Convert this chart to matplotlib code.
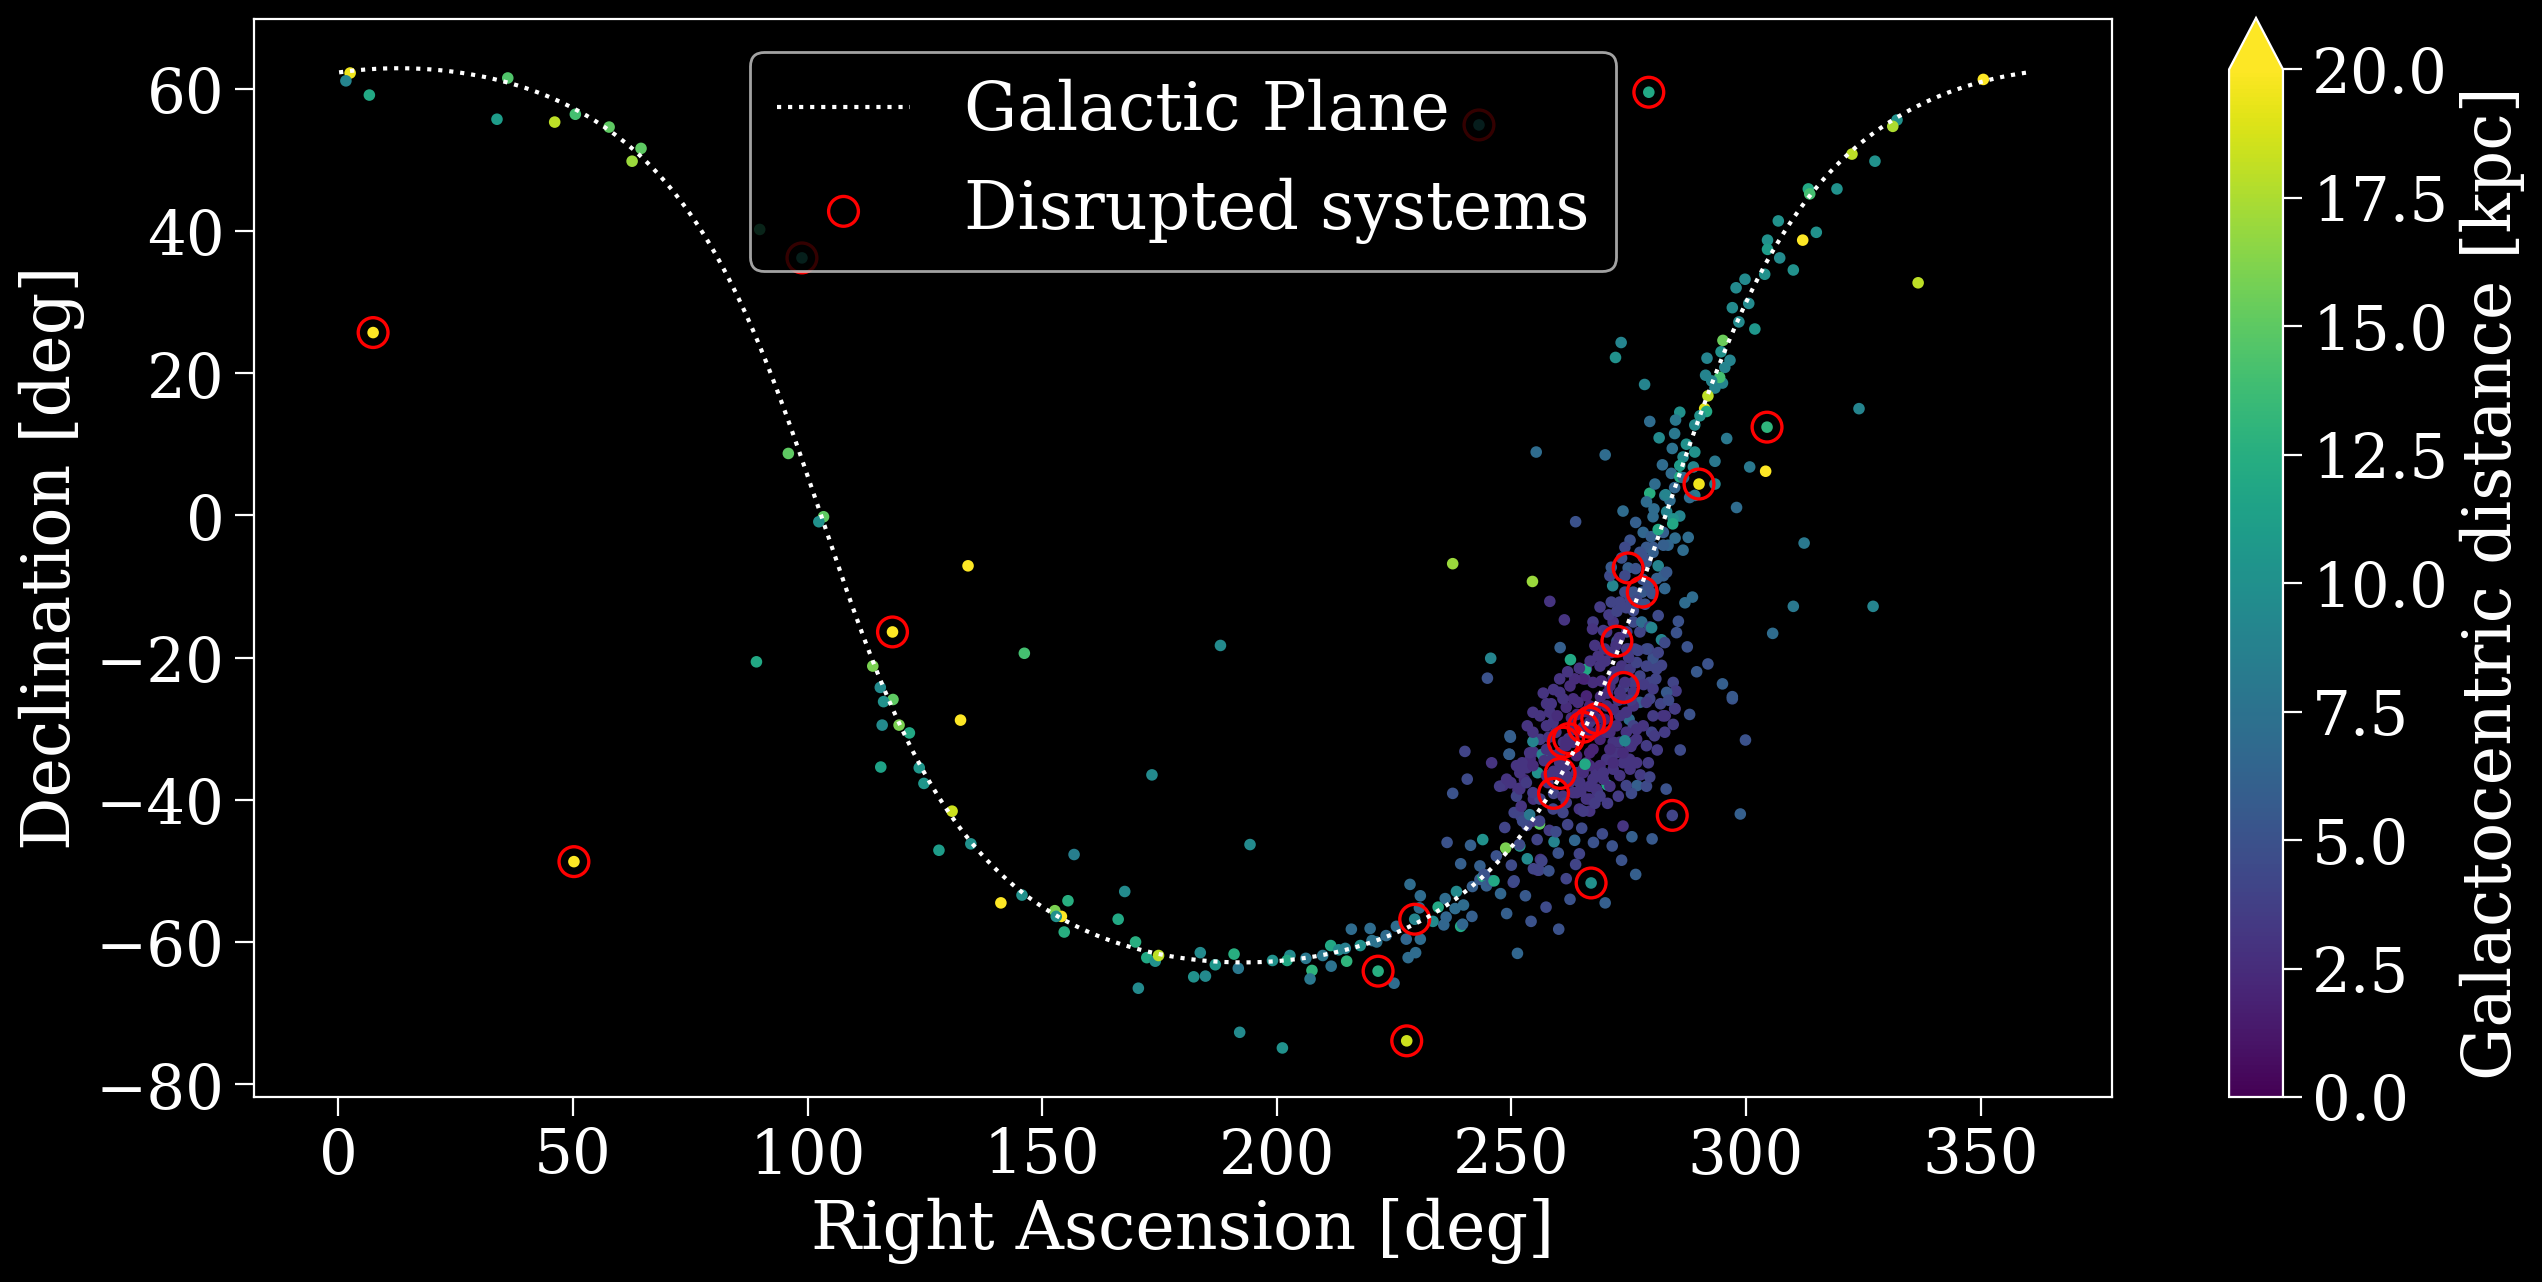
import matplotlib
matplotlib.use('Agg')
import matplotlib.pyplot as plt
import numpy as np

plt.style.use('dark_background')
plt.rcParams['font.family'] = 'serif'
plt.rcParams['font.size'] = 22

# halo / southern arc west of RA 200
outer_ra = [2.5, 1.6, 6.6, 7.4, 33.8, 36.1, 46.1, 50.5, 57.7, 62.6,
            64.5, 50.2, 89.8, 98.8, 95.9, 103.4, 102.4, 89.1, 118.1, 134.2,
            146.2, 113.9, 115.5, 118.2, 116.2, 115.9, 119.5, 121.7, 132.6, 115.6,
            123.8, 124.8, 130.8, 128.0, 134.8, 156.8, 141.2, 145.7, 155.5, 152.7,
            154.1, 153.0, 154.7, 166.2, 173.4, 188.0, 194.3, 167.6, 169.9, 172.3,
            174.1, 174.8, 170.5, 183.7, 182.3, 184.8, 186.9, 190.9, 191.8, 192.1,
            199.1]
outer_dec = [62.2, 61.1, 59.1, 25.7, 55.7, 61.5, 55.3, 56.4, 54.6, 49.8,
             51.6, -48.7, 40.2, 36.2, 8.7, -0.2, -0.9, -20.6, -16.4, -7.1,
             -19.4, -21.2, -24.2, -25.9, -26.2, -29.5, -29.5, -30.6, -28.8, -35.4,
             -35.5, -37.7, -41.6, -47.1, -46.2, -47.7, -54.5, -53.4, -54.2, -55.6,
             -56.4, -56.4, -58.6, -56.8, -36.5, -18.3, -46.3, -52.9, -60.0, -62.2,
             -62.7, -61.9, -66.5, -61.5, -64.9, -64.8, -63.2, -61.7, -63.7, -72.7,
             -62.6]
outer_dist = [19.5, 9, 12, 20, 11, 14.5, 18, 14, 15, 17,
              15, 20, 13, 11, 15, 15, 10, 12, 20, 20,
              14, 16, 9.5, 15, 10, 9.5, 16, 12, 20, 11.5,
              10.5, 10.5, 18.5, 11, 10, 8.5, 20, 10, 12.5, 16,
              20, 10, 12.5, 12, 9.5, 9.5, 9.5, 9.5, 12.5, 12,
              10, 18, 9.5, 9.5, 10, 9.5, 10.5, 12.5, 8, 9.5,
              10]

# arc between RA 200 and the bulge
arc_ra = [201.2, 202.8, 202.2, 206.2, 207.5, 207.1, 209.8, 211.5, 211.6, 213.2,
          214.6, 214.9, 215.9, 217.8, 219.9, 220.3, 221.3, 221.6, 225.0, 223.3,
          225.5, 227.6, 228.0, 229.6, 230.6, 229.4, 228.4, 230.6, 230.4, 227.7,
          234.4, 235.9, 236.1, 235.6, 233.3, 238.3, 238.0, 239.8, 239.2, 239.6,
          241.6, 236.3, 241.3, 237.5, 240.6, 240.1, 245.8, 249.6, 251.3, 254.2,
          239.2, 243.3, 241.7, 244.0, 246.8, 248.8, 251.8, 250.0, 253.4, 247.7,
          250.4, 248.6, 248.2, 249.9, 251.4, 252.8, 252.0, 254.0, 255.6, 256.2,
          243.3, 244.2, 244.7, 245.8, 246.3, 243.9, 250.6, 251.7, 254.7, 255.9,
          256.5, 258.1, 256.0, 254.4, 253.3, 255.5, 250.6, 252.4, 253.9, 251.6,
          252.1, 254.7, 255.6, 256.8, 254.7, 254.0, 253.3, 252.3, 249.8, 245.6,
          244.9, 237.5, 254.5, 260.1, 257.4, 261.7, 263.7, 264.5, 263.5, 259.1,
          267.0, 243.1]
arc_dec = [-74.9, -61.9, -62.6, -62.3, -64.0, -65.2, -61.9, -60.5, -63.4, -61.1,
           -60.9, -62.7, -58.2, -60.5, -58.1, -59.8, -60.0, -64.1, -65.8, -59.1,
           -57.8, -59.6, -62.2, -61.5, -59.6, -56.8, -51.9, -53.5, -55.2, -73.9,
           -55.1, -53.9, -56.5, -57.6, -57.1, -52.9, -55.3, -54.8, -57.8, -57.5,
           -56.4, -46.0, -46.4, -39.1, -37.1, -33.2, -34.8, -33.6, -61.6, -57.1,
           -49.0, -51.2, -52.2, -50.8, -47.9, -46.8, -46.5, -49.2, -48.3, -53.2,
           -51.6, -43.9, -38.0, -37.6, -38.6, -37.2, -42.3, -43.0, -49.9, -48.4,
           -49.3, -50.5, -52.1, -51.4, -51.4, -45.6, -51.4, -46.3, -49.7, -49.9,
           -48.6, -44.3, -43.4, -43.0, -43.6, -45.6, -41.8, -43.0, -42.1, -38.4,
           -40.9, -39.9, -36.2, -33.8, -33.3, -34.3, -35.5, -34.8, -31.2, -20.1,
           -22.9, -6.8, -9.3, -58.2, -55.1, -51.1, -49.1, -47.6, -45.7, -45.9,
           -51.7, 54.9]
arc_dist = [10, 9.5, 12, 8, 13, 8, 8, 12, 7.5, 9.5,
            8.5, 13, 7, 10, 7, 7.5, 7.5, 12.5, 7, 7,
            7, 6.5, 7, 7, 7, 9, 7, 7, 7, 18.5,
            12, 7, 6.5, 6.5, 9.5, 9.5, 7, 7, 12, 6.5,
            6, 5, 6, 5, 4.5, 4, 3, 6, 6.5, 5,
            6, 5.5, 6, 12, 5, 16, 10, 4.5, 9.5, 6.5,
            4, 4, 3, 3, 2.5, 2.5, 4, 4, 3, 3,
            6, 5, 6, 5, 12, 10, 4.5, 4.5, 4, 4,
            4, 3.5, 15, 3, 4, 4, 4, 4.5, 8, 3,
            3, 3, 10, 9, 3, 2.5, 3, 3, 6, 9,
            5, 17, 17, 5, 4.5, 4, 4, 4, 6.5, 9,
            10, 10]

# bulge region
bulge_ra = [269.4, 273.8, 275.7, 276.8, 278.8, 275.6, 270.4, 268.3, 266.7, 264.5,
            281.1, 282.8, 284.9, 275.1, 275.2, 275.5, 271.7, 271.3, 284.3, 298.8,
            299.9, 297.1, 259.0, 260.4, 261.1, 262.2, 265.3, 266.7, 268.2, 273.9,
            272.5, 277.9, 274.9, 287.7, 286.6, 284.9, 283.4, 282.4, 280.2, 278.8,
            275.3, 274.2, 281.3, 282.4, 278.8, 278.1, 282.7, 287.0, 288.6, 310.1,
            305.7, 285.6, 291.9, 295.0, 297.1, 284.5, 285.1, 284.8, 279.5, 279.9,
            282.0, 280.2, 279.2, 277.4, 276.0, 277.8, 282.0, 281.3, 279.5, 273.1,
            271.6, 274.2, 275.3, 276.0, 268.9, 271.3, 267.4, 269.6, 267.3, 267.8,
            269.9, 271.7, 272.3, 270.3, 274.6, 274.6, 276.3, 278.8, 266.0, 265.7,
            267.4, 269.2, 271.0, 273.1, 276.0, 277.4, 258.2, 261.3, 260.4, 262.6,
            265.8, 256.8, 260.3, 262.5, 265.3, 266.0, 263.2, 261.7, 258.9, 257.5,
            256.1, 254.6, 253.9, 254.6, 257.8, 261.7, 263.9, 266.7, 268.9, 271.0,
            273.1, 276.0, 277.4, 279.5, 280.2, 283.1, 282.3, 279.9, 278.1, 275.3,
            272.4, 270.3, 268.1, 266.7, 263.9, 261.0, 251.1, 247.5, 249.7, 251.8,
            249.7, 249.5, 253.4, 254.6, 256.1, 258.2, 257.5, 260.3, 261.0, 264.2,
            266.7, 267.4, 270.3, 271.7, 269.9, 268.9, 266.7, 265.0, 263.2, 261.7,
            263.2, 260.3, 261.0, 263.9, 265.3, 266.7, 268.9, 271.0, 273.1, 274.5,
            276.7, 278.8, 273.8, 271.7, 269.6, 266.0, 271.3, 273.5, 275.3, 276.7,
            278.8, 281.0, 274.2, 276.0, 271.7, 268.9, 274.9, 281.3, 279.9, 282.7,
            285.2, 276.0, 279.2, 281.0, 283.1, 274.2, 271.0, 271.3, 277.4, 280.2,
            282.4, 278.1, 254.6, 256.6, 257.5, 258.9, 260.3, 261.7, 266.0, 267.4,
            270.3, 272.4, 274.5, 276.0, 278.8, 280.2, 276.7, 276.0, 273.8, 271.7,
            269.6, 267.4, 264.6, 263.2, 261.7, 261.0, 258.9, 256.1, 254.6, 253.2,
            251.8, 251.1, 249.0, 257.5, 261.7, 265.3, 268.1, 271.0, 273.1, 275.3,
            276.7, 279.2, 282.7, 284.5, 266.7, 268.9, 265.3, 274.2, 265.7, 263.7]
bulge_dec = [-44.8, -43.7, -45.2, -38.0, -38.1, -39.1, -37.9, -38.8, -41.6, -41.3,
             -33.0, -28.2, -27.2, -28.7, -34.3, -32.5, -31.9, -34.3, -42.2, -42.0,
             -31.6, -25.8, -39.1, -36.3, -31.9, -31.4, -29.8, -29.1, -28.6, -24.2,
             -17.7, -10.8, -7.4, -3.1, -4.9, -3.2, -4.2, -4.2, -4.5, -4.5,
             -3.5, -4.5, -7.1, -8.5, -6.6, -5.9, -10.3, -12.3, -11.5, -12.8,
             -16.6, -14.9, -20.9, -23.7, -25.5, -23.5, -24.7, -27.2, -23.5, -21.1,
             -21.1, -20.1, -18.8, -16.4, -15.0, -15.0, -17.5, -14.1, -15.7, -12.2,
             -9.9, -10.8, -11.7, -13.4, -12.9, -12.2, -15.0, -16.2, -16.0, -18.3,
             -18.8, -15.0, -18.3, -16.4, -16.4, -18.8, -18.8, -18.8, -21.6, -23.0,
             -23.5, -23.3, -24.0, -24.9, -23.5, -22.6, -12.1, -14.7, -18.6, -20.3,
             -21.7, -25.0, -23.0, -24.0, -23.0, -25.4, -25.8, -27.0, -29.1, -29.6,
             -31.5, -31.8, -33.4, -35.2, -37.6, -35.2, -33.8, -33.4, -31.5, -30.5,
             -28.2, -29.6, -26.3, -25.8, -24.4, -24.9, -28.2, -30.5, -29.6, -32.4,
             -33.4, -34.3, -36.2, -38.1, -39.0, -39.5, -39.5, -38.1, -37.6, -38.5,
             -31.0, -33.6, -29.6, -27.7, -28.2, -27.7, -26.5, -24.9, -25.8, -26.3,
             -26.8, -28.2, -26.8, -27.3, -28.7, -30.1, -30.5, -30.5, -30.1, -31.9,
             -31.9, -33.4, -35.2, -36.2, -36.2, -35.2, -35.2, -32.9, -31.9, -30.5,
             -31.5, -32.4, -34.8, -35.7, -37.1, -39.9, -19.3, -21.2, -21.6, -20.7,
             -21.2, -21.6, -23.5, -24.9, -23.0, -21.2, -18.8, -19.3, -15.8, -17.9,
             -16.5, -10.8, -9.9, -8.9, -8.0, -8.5, -8.5, -7.3, -5.2, -5.2,
             -2.4, -2.4, -30.5, -33.6, -32.9, -33.8, -34.8, -32.4, -34.8, -32.9,
             -30.5, -29.6, -27.7, -26.8, -26.3, -28.2, -30.1, -31.9, -33.4, -34.8,
             -36.2, -37.1, -37.6, -39.0, -40.4, -41.8, -41.3, -39.9, -39.0, -37.6,
             -36.2, -35.2, -37.1, -36.6, -36.6, -35.7, -38.5, -38.1, -36.6, -35.7,
             -34.8, -34.8, -30.5, -29.4, -39.9, -39.5, -41.6, -31.7, -35.0, -0.9]
bulge_dist = [4.5, 3, 6, 6, 4.5, 4.5, 12, 3.5, 3, 3,
              3.5, 3, 3, 7, 3, 3, 3, 3, 4, 6,
              5, 5, 4, 3, 3, 3, 3, 3, 3, 4,
              4.5, 5.5, 6, 7, 7, 7, 6.5, 6, 5.5, 5.5,
              5, 4.5, 9, 6, 5.5, 5, 6.5, 7, 7, 8,
              7, 5, 5, 6, 5.5, 4, 3.5, 3.5, 4, 4,
              4, 5, 4, 4, 4.5, 7, 9, 4.5, 4.5, 4,
              9, 4.5, 4, 4.5, 3.5, 4, 3.5, 3.5, 3, 3,
              3, 3, 3, 3, 3.5, 3.5, 4, 4.5, 3, 3,
              2.5, 2.5, 2.5, 3, 3.5, 4, 3, 3, 6, 12,
              12, 3, 3, 2.5, 2, 2, 2.5, 2.5, 3, 3,
              3.5, 9, 3, 2.5, 3, 3.5, 2, 2, 2, 2.5,
              3, 4, 6, 4, 3.5, 5.5, 3, 4, 3, 3,
              3, 3, 3, 3, 3, 3, 4, 3.5, 3, 3,
              6, 6, 3, 3, 3, 3, 3, 3, 3, 2.5,
              2, 2, 2.5, 2.5, 2, 2, 2, 2, 2.5, 2.5,
              2.5, 3, 3, 3, 2.5, 2.5, 2.5, 2.5, 3, 3,
              3, 3.5, 3, 3, 3, 3, 3, 3, 3.5, 4,
              4, 4, 3, 3, 3, 3, 3.5, 4, 9, 4.5,
              5, 5, 5, 6, 5.5, 4.5, 4.5, 5.5, 5, 6,
              6, 6.5, 3, 9, 3, 3, 3, 2.5, 2, 2,
              2.5, 2.5, 3, 3, 3.5, 3.5, 3, 3, 2.5, 2.5,
              3, 3, 3, 3, 3.5, 4, 4, 4, 3.5, 3.5,
              3, 3, 3, 3, 3, 2.5, 3, 3, 3, 3,
              3, 3.5, 3.5, 3.5, 3, 3.5, 3.5, 9, 12, 5]

# more bulge members, filling the crowded core and its outskirts
core_ra = [262.8, 264.0, 265.8, 268.0, 269.0, 270.5, 272.8, 274.0, 275.5, 272.0,
           270.0, 268.5, 266.8, 264.5, 263.5, 262.0, 259.0, 258.5, 259.8, 259.5,
           258.0, 257.0, 259.0, 262.5, 264.8, 267.8, 270.5, 272.8, 274.5, 277.5,
           279.5, 280.5, 281.8, 283.5, 280.8, 278.2, 275.0, 277.0, 273.0, 270.8,
           272.5, 274.5, 276.8, 278.5, 280.0, 278.0, 276.5, 273.5, 279.8, 276.5,
           256.0, 259.5, 262.0, 265.0, 267.5, 271.5, 260.0, 258.0, 253.0, 249.0,
           262.5, 270.0, 276.5, 273.5, 280.0, 283.0, 286.0, 288.0, 289.5, 287.5]
core_dec = [-28.5, -28.0, -27.6, -27.0, -25.5, -25.0, -26.0, -25.8, -26.0, -22.0,
            -20.5, -19.8, -20.5, -21.5, -23.0, -22.0, -24.5, -26.5, -28.2, -30.5,
            -31.2, -34.5, -36.0, -37.5, -38.8, -40.5, -40.5, -39.5, -38.0, -36.5,
            -36.8, -31.0, -26.5, -26.0, -23.0, -23.8, -20.0, -19.0, -17.2, -14.0,
            -13.5, -13.0, -12.0, -12.5, -11.0, -9.0, -7.5, -6.0, -3.0, -1.0,
            -43.0, -44.5, -43.5, -44.0, -46.0, -46.5, -47.5, -50.0, -53.5, -56.0,
            -54.0, -54.5, -50.5, -48.5, -45.5, -38.5, -33.0, -28.0, -22.0, -18.5]
core_dist = [2.5, 2, 2, 2, 2.5, 2.5, 3, 3, 3.5, 3,
             3, 3, 3, 3, 2.5, 3, 3, 3, 2.5, 3,
             3, 3, 3, 3, 3, 3.5, 3.5, 3.5, 4, 3.5,
             4, 3.5, 4, 4.5, 4, 3.5, 3.5, 4, 3, 3.5,
             4, 4, 4.5, 5, 5, 5, 5, 5, 6, 6,
             4, 4.5, 4, 4.5, 5, 5, 5, 5, 5.5, 6,
             5, 6, 6, 5, 5.5, 5, 4.5, 5, 5.5, 5]

# northern arm of the plane
north_ra = [279.3, 290.0, 304.5, 300.6, 297.1, 301.9, 298.5, 295.1, 294.7, 296.6,
            295.5, 291.7, 273.4, 272.2, 278.4, 291.4, 293.4, 295.0, 294.4, 291.9,
            291.2, 291.6, 290.2, 285.9, 285.0, 279.5, 289.1, 284.8, 281.5, 295.9,
            287.3, 289.1, 284.3, 282.2, 286.6, 285.9, 288.8, 293.4, 300.8, 304.2,
            284.1, 293.4, 289.1, 285.9, 279.5, 282.7, 283.8, 280.4, 280.2, 285.9,
            298.0, 283.1, 284.5, 281.3, 284.4, 273.8, 278.8, 255.3, 270.0, 313.3,
            306.9, 304.6, 304.6, 307.2, 312.1, 310.1, 304.0, 315.0, 299.8, 297.9,
            292.7, 280.6, 286.7, 284.8, 282.9, 288.0, 350.6, 332.2, 331.3, 322.6,
            327.5, 313.6, 319.4, 336.7, 324.1, 312.4, 327.1]
north_dec = [59.5, 4.4, 12.4, 29.8, 29.2, 26.2, 27.2, 24.6, 23.0, 21.8,
             20.8, 22.1, 24.3, 22.2, 18.4, 19.7, 17.9, 18.6, 19.4, 16.8,
             15.0, 14.6, 14.0, 14.5, 13.4, 13.2, 12.7, 11.5, 10.9, 10.8,
             10.0, 8.9, 9.4, 7.1, 8.2, 7.0, 6.8, 7.6, 6.8, 6.2,
             5.9, 4.4, 2.8, 5.4, 3.1, 2.8, 2.1, 0.9, -0.2, -0.1,
             1.1, 0.5, -0.5, -2.0, -1.2, 0.6, 1.9, 8.9, 8.5, 45.9,
             41.4, 38.7, 37.4, 36.2, 38.7, 34.5, 33.9, 39.8, 33.2, 32.0,
             18.9, 4.4, 5.3, 3.9, 2.9, 2.5, 61.3, 55.6, 54.7, 50.8,
             49.8, 45.2, 45.9, 32.7, 15.0, -3.9, -12.8]
north_dist = [12, 19.5, 13, 9.5, 9.5, 10.5, 9.5, 15.5, 10, 9,
              9, 9, 9, 10, 9, 9, 9, 9, 14, 18,
              19, 12, 10, 10, 8, 7, 9.5, 8, 9.5, 8,
              10, 10, 7.5, 7, 9.5, 11, 9, 8, 8, 20,
              7, 9, 8, 12, 12.5, 7, 7, 7, 7, 9,
              7, 9, 10, 12, 12, 7, 7, 7, 7, 12,
              10, 10, 11, 9.5, 20, 10, 10, 10, 9.5, 9.5,
              9, 7, 7, 6.5, 9, 7, 20, 10, 17.5, 18,
              10, 14, 10, 18, 9, 8, 9]

# disrupted systems
dis_ra = [7.4, 50.2, 98.8, 118.1, 221.6, 227.7, 229.4, 243.1, 259.0, 260.4,
          261.1, 262.2, 265.3, 266.7, 268.2, 267.0, 272.5, 273.9, 274.9, 277.9,
          279.3, 284.3, 290.0, 304.5]
dis_dec = [25.7, -48.7, 36.2, -16.4, -64.1, -73.9, -56.8, 54.9, -39.1, -36.3,
           -31.9, -31.4, -29.8, -29.1, -28.6, -51.7, -17.7, -24.2, -7.4, -10.8,
           59.5, -42.2, 4.4, 12.4]

ra = outer_ra + arc_ra + bulge_ra + core_ra + north_ra
dec = outer_dec + arc_dec + bulge_dec + core_dec + north_dec
dist = outer_dist + arc_dist + bulge_dist + core_dist + north_dist

# galactic plane (b = 0) converted to equatorial coordinates
gal_to_icrs = np.array([[-0.0548755604, -0.8734370902, -0.4838350155],
                        [0.4941094279, -0.4448296300, 0.7469822445],
                        [-0.8676661490, -0.1980763734, 0.4559837762]]).T
l = np.radians(np.linspace(0, 360, 2000))
xyz = gal_to_icrs @ np.vstack([np.cos(l), np.sin(l), np.zeros_like(l)])
plane_ra = np.degrees(np.arctan2(xyz[1], xyz[0])) % 360
plane_dec = np.degrees(np.arcsin(xyz[2]))
order = np.argsort(plane_ra)
plane_ra, plane_dec = plane_ra[order], plane_dec[order]

fig = plt.figure(figsize=(12.71, 6.41), dpi=200)
ax = fig.add_axes([0.0999, 0.1443, 0.7309, 0.8409])
cax = fig.add_axes([0.8769, 0.1443, 0.0212, 0.8417])

ax.plot(plane_ra, plane_dec, ':', color='white', lw=1.5, label='Galactic Plane')
sc = ax.scatter(ra, dec, c=dist, cmap='viridis', vmin=0, vmax=20, s=10)
ax.scatter(dis_ra, dis_dec, s=115, facecolors='none', edgecolors='red',
           linewidths=1.2, label='Disrupted systems')

ax.set_xlim(-18, 378)
ax.set_ylim(-81.8, 69.8)
ax.set_xlabel('Right Ascension [deg]', fontsize=24)
ax.set_ylabel('Declination [deg]', fontsize=24)
ax.tick_params(length=7, width=0.8)
ax.legend(loc='upper center', fontsize=24)

cb = fig.colorbar(sc, cax=cax, extend='max')
cb.set_ticks(np.arange(0, 20.1, 2.5))
cb.set_label('Galactocentric distance [kpc]', fontsize=24)
cax.tick_params(length=7, width=0.8)

fig.savefig('out.png', dpi=200)
